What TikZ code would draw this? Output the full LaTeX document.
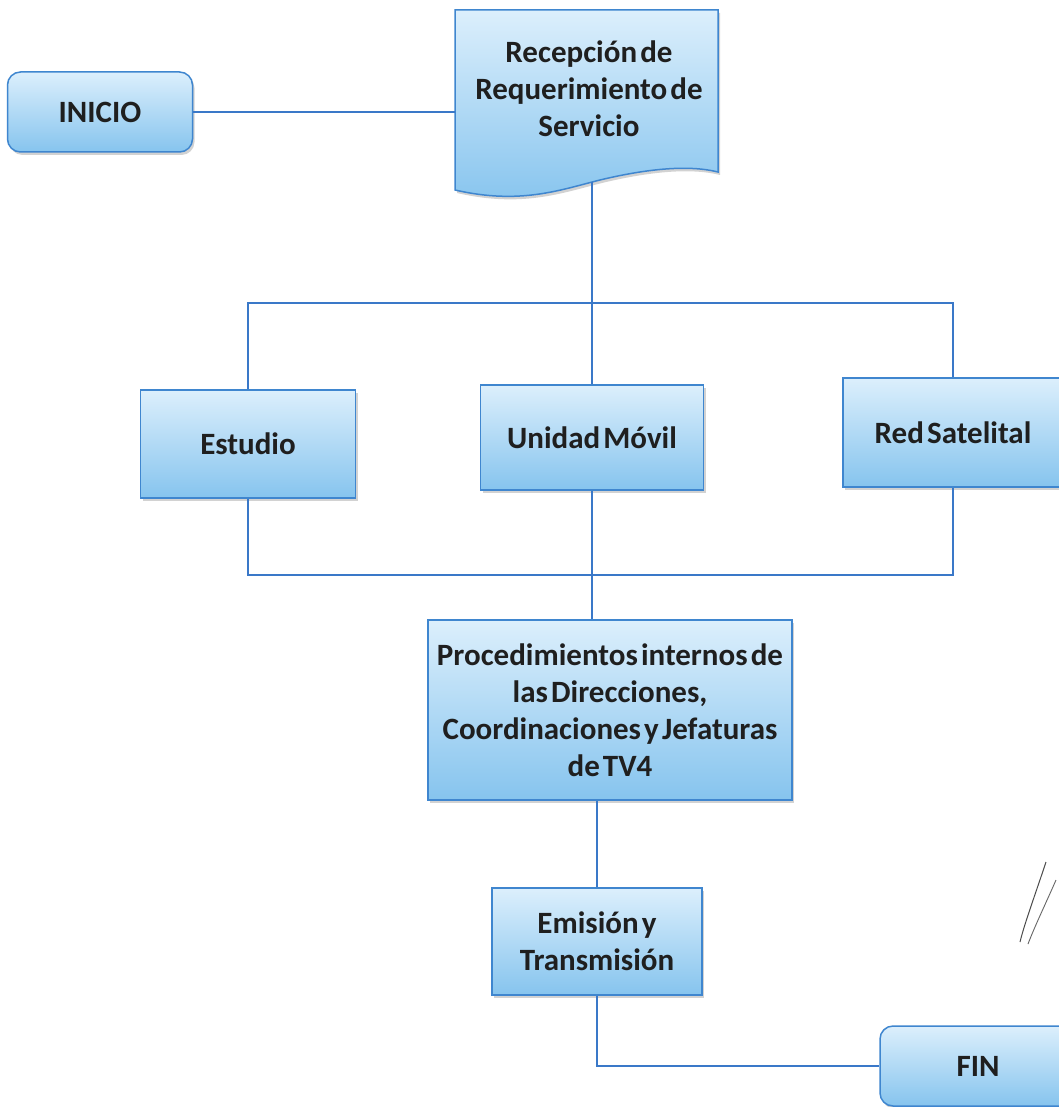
\documentclass[tikz,border=0pt]{standalone}
\usepackage{fontspec}
\setmainfont{Carlito}[WordSpace=0.45]
\usetikzlibrary{shadows}
\definecolor{boxborder}{HTML}{3F86CF}
\definecolor{boxtop}{HTML}{DCEFFC}
\definecolor{boxbot}{HTML}{86C4EE}
\definecolor{linecol}{HTML}{3A78C8}
\tikzset{
  boxfill/.style={draw=boxborder, line width=1.5pt, top color=boxtop, bottom color=boxbot,
    drop shadow={shadow xshift=2pt, shadow yshift=-3pt, opacity=0.35}},
  flowbox/.style={boxfill, font=\bfseries\fontsize{31}{37}\selectfont, align=center,
    text=black!88, inner sep=0pt},
  roundbox/.style={flowbox, rounded corners=13pt},
  labelonly/.style={font=\bfseries\fontsize{31}{37}\selectfont, align=center, text=black!88, inner sep=0pt},
  conn/.style={draw=linecol, line width=1.8pt},
}
\begin{document}
\begin{tikzpicture}[x=1pt,y=-1pt]
\useasboundingbox[fill=white] (0,0) rectangle (1058,1107);

% document shape
\path[boxfill] (455,10) -- (718,10) -- (718,172)
  .. controls (690,165) and (650,168) .. (600,180)
  .. controls (560,190) and (520,205) .. (455,190) -- cycle;
\node[labelonly, minimum width=263pt, minimum height=186pt] (rec) at (589,89)
  {Recepción de\\Requerimiento de\\Servicio};

\node[roundbox, minimum width=185pt, minimum height=80pt] (ini) at (100,112) {INICIO};

\node[flowbox, minimum width=215pt, minimum height=108pt] (est) at (248,444) {Estudio};
\node[flowbox, minimum width=223pt, minimum height=105pt] (uni) at (592,437.5) {Unidad Móvil};
\node[flowbox, minimum width=220pt, minimum height=109pt] (red) at (953,432.5) {Red Satelital};

\node[flowbox, minimum width=364pt, minimum height=180pt] (proc) at (610,710)
  {Procedimientos internos de\\las Direcciones,\\Coordinaciones y Jefaturas\\de TV4};

\node[flowbox, minimum width=210pt, minimum height=107pt] (emi) at (597,941.5)
  {Emisión y\\Transmisión};

\node[roundbox, minimum width=196pt, minimum height=80pt] (fin) at (978,1066) {FIN};

% connectors
\coordinate (tl) at (248,303);
\coordinate (tr) at (953,303);
\coordinate (bl) at (248,575);
\coordinate (br) at (953,575);

\draw[conn] (ini.east) -- (ini.east -| 455,0);
\draw[conn] (rec.south -| uni.north) -- (uni.north);
\draw[conn] (est.north) -- (tl) -- (tr) -- (red.north);
\draw[conn] (est.south) -- (bl) -- (br) -- (red.south);
\draw[conn] (uni.south) -- (uni.south |- proc.north);
\draw[conn] (emi.north |- proc.south) -- (emi.north);
\draw[conn] (emi.south) |- (fin.west);

% pen scribble
\draw[black!70, line width=1pt] (1046,862) .. controls (1035,895) and (1024,925) .. (1020,942);
\draw[black!60, line width=0.9pt] (1056,880) .. controls (1045,905) and (1034,928) .. (1028,944);
\end{tikzpicture}
\end{document}
